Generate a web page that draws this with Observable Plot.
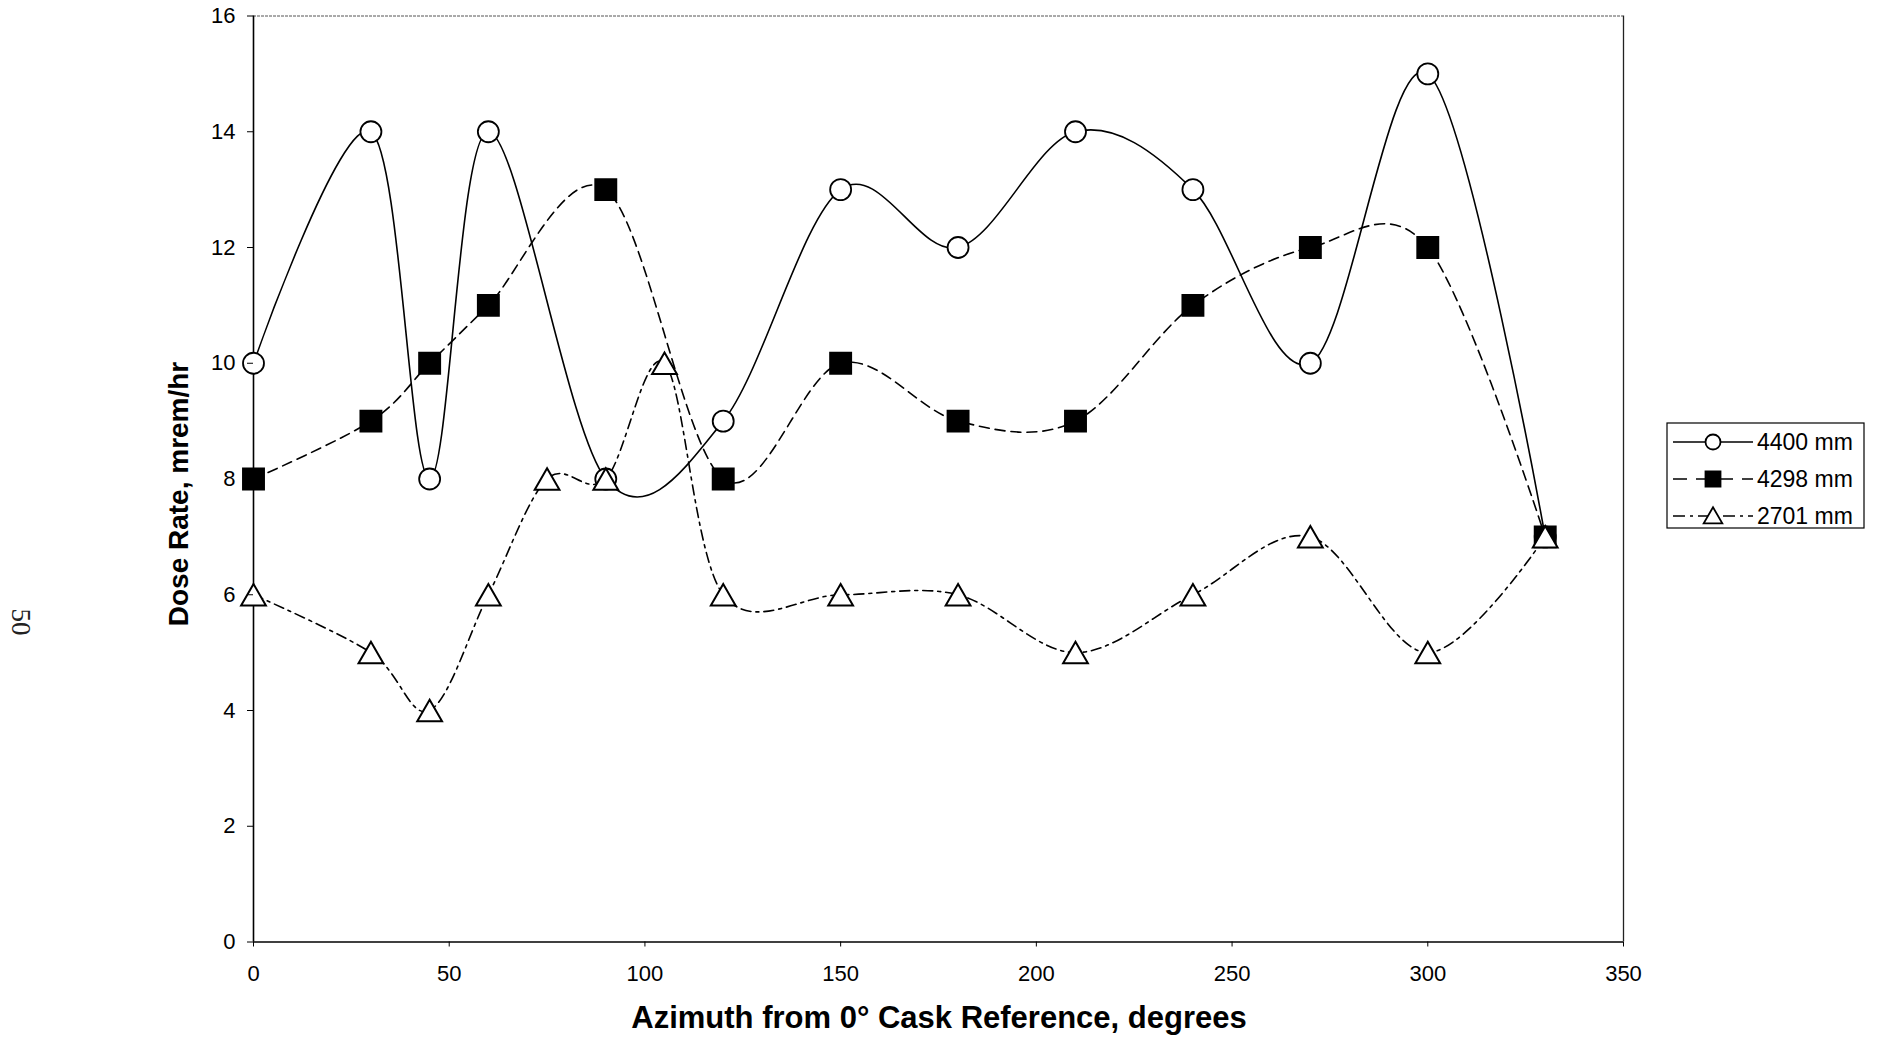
<!DOCTYPE html>
<html>
<head>
<meta charset="utf-8">
<script src="https://cdn.jsdelivr.net/npm/d3@7"></script>
<script src="https://cdn.jsdelivr.net/npm/@observablehq/plot@0.6"></script>
<style>
  html, body { margin: 0; padding: 0; background: #fff; }
  #chart { position: relative; width: 1878px; height: 1040px; }
</style>
</head>
<body>
<div id="chart"></div>
<script>
// ---- Data ----
const seriesNames = ["4400 mm", "4298 mm", "2701 mm"];

const azimuth4400 = [0, 30, 45, 60, 90, 120, 150, 180, 210, 240, 270, 300, 330];
const dose4400    = [10, 14, 8, 14, 8, 9, 13, 12, 14, 13, 10, 15, 7];

const azimuth4298 = [0, 30, 45, 60, 90, 120, 150, 180, 210, 240, 270, 300, 330];
const dose4298    = [8, 9, 10, 11, 13, 8, 10, 9, 9, 11, 12, 12, 7];

const azimuth2701 = [0, 30, 45, 60, 75, 90, 105, 120, 150, 180, 210, 240, 270, 300, 330];
const dose2701    = [6, 5, 4, 6, 8, 8, 10, 6, 6, 6, 5, 6, 7, 5, 7];

const xTicks = [0, 50, 100, 150, 200, 250, 300, 350];
const yTicks = [0, 2, 4, 6, 8, 10, 12, 14, 16];

const xTitle = "Azimuth from 0° Cask Reference, degrees";
const yTitle = "Dose Rate, mrem/hr";
const pageNumber = "50";

// ---- Build tables ----
const toRows = (xs, ys, s) => xs.map((x, i) => ({x, y: ys[i], s}));
const d4400 = toRows(azimuth4400, dose4400, seriesNames[0]);
const d4298 = toRows(azimuth4298, dose4298, seriesNames[1]);
const d2701 = toRows(azimuth2701, dose2701, seriesNames[2]);

const styles = [
  {data: d4400, dash: null, symbol: "circle", fill: "white", r: 10.5, dy: 0},
  {data: d4298, dash: "10,6", symbol: "square", fill: "black", r: 11.8, dy: 0},
  {data: d2701, dash: "10,5,3,5", symbol: "triangle", fill: "white", r: 9.2, dy: 3.5}
];

const W = 1878, H = 1040;
const font = "'Liberation Sans', Arial, Helvetica, sans-serif";

const marks = [];
// frame lines
marks.push(Plot.ruleY([16], {stroke: "#555", strokeWidth: 1, strokeDasharray: "3,1"}));
marks.push(Plot.ruleX([350], {stroke: "#222", strokeWidth: 1.3}));
for (const st of styles) {
  marks.push(Plot.line(st.data, {x: "x", y: "y", curve: "cardinal", stroke: "black", strokeWidth: 1.6, strokeDasharray: st.dash}));
}
marks.push(Plot.ruleX([0], {stroke: "black", strokeWidth: 1.6}));
marks.push(Plot.ruleY([0], {stroke: "black", strokeWidth: 1.6}));
for (const st of styles) {
  if (st.symbol === "circle") {
    marks.push(Plot.dot(st.data, {x: "x", y: "y", r: st.r, fill: st.fill, stroke: "black", strokeWidth: 1.8}));
  } else {
    marks.push(Plot.dot(st.data, {x: "x", y: "y", r: st.r, dy: st.dy, symbol: st.symbol, fill: st.fill, stroke: "black", strokeWidth: 2}));
  }
}
marks.push(Plot.axisX({ticks: xTicks, tickSize: 5, tickPadding: 18, fontSize: 22, label: null, stroke: "black"}));
marks.push(Plot.axisY({ticks: yTicks, tickSize: 6, tickPadding: 12, fontSize: 22, label: null, stroke: "black"}));

const svgEl = Plot.plot({
  width: W,
  height: H,
  marginLeft: 253,
  marginRight: 255,
  marginTop: 15.5,
  marginBottom: 98.5,
  style: {fontFamily: font, color: "black", background: "white", overflow: "visible"},
  x: {domain: [0, 350]},
  y: {domain: [0, 16]},
  marks
});

document.getElementById("chart").appendChild(svgEl);

const svg = d3.select(svgEl);

// Axis titles
svg.append("text")
  .attr("x", 939).attr("y", 1028)
  .attr("text-anchor", "middle")
  .attr("font-family", font).attr("font-weight", "bold").attr("font-size", 31)
  .attr("fill", "black")
  .text(xTitle);

svg.append("text")
  .attr("transform", "translate(188,494) rotate(-90)")
  .attr("text-anchor", "middle")
  .attr("font-family", font).attr("font-weight", "bold").attr("font-size", 28)
  .attr("fill", "black")
  .text(yTitle);

// Page number
svg.append("text")
  .attr("transform", "translate(12,622) rotate(90)")
  .attr("text-anchor", "middle")
  .attr("font-family", "'Liberation Serif', 'Times New Roman', serif").attr("font-size", 27)
  .attr("fill", "#222")
  .text(pageNumber);

// Legend
const lg = svg.append("g").attr("text-anchor", "start");
lg.append("rect").attr("x", 1667).attr("y", 423).attr("width", 197).attr("height", 105)
  .attr("fill", "white").attr("stroke", "black").attr("stroke-width", 1.2);
const legendSymbols = {circle: d3.symbolCircle, square: d3.symbolSquare, triangle: d3.symbolTriangle};
const legendDash = [null, "14,9", "12,5,3,5"];
styles.forEach((st, i) => {
  const y = 442 + i * 37;
  lg.append("line").attr("x1", 1673).attr("x2", 1753).attr("y1", y).attr("y2", y)
    .attr("stroke", "black").attr("stroke-width", 1.6).attr("stroke-dasharray", legendDash[i]);
  const size = st.symbol === "circle" ? Math.PI * 7.5 * 7.5 : st.symbol === "square" ? 15 * 15 : 150;
  lg.append("path").attr("d", d3.symbol(legendSymbols[st.symbol], size)())
    .attr("transform", `translate(1713,${y + (st.symbol === "triangle" ? 2 : 0)})`)
    .attr("fill", st.fill).attr("stroke", "black").attr("stroke-width", 1.8);
  lg.append("text").attr("x", 1757).attr("y", y).attr("dy", "0.35em")
    .attr("text-anchor", "start")
    .attr("font-family", font).attr("font-size", 23).attr("fill", "black")
    .text(seriesNames[i]);
});
</script>
</body>
</html>
